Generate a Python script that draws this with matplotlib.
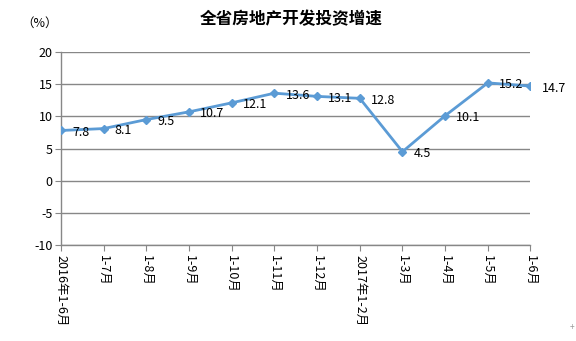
import matplotlib
matplotlib.use('Agg')
import matplotlib.pyplot as plt

plt.rcParams['font.family'] = ['Noto Sans CJK SC', 'DejaVu Sans']
plt.rcParams['axes.unicode_minus'] = False

# 全省房地产开发投资增速 (%)
months = ['2016年1-6月', '1-7月', '1-8月', '1-9月', '1-10月', '1-11月',
          '1-12月', '2017年1-2月', '1-3月', '1-4月', '1-5月', '1-6月']
growth = [7.8, 8.1, 9.5, 10.7, 12.1, 13.6, 13.1, 12.8, 4.5, 10.1, 15.2, 14.7]
yticks = [-10, -5, 0, 5, 10, 15, 20]

line_color = '#5B9BD5'
grid_color = '#878787'

fig = plt.figure(figsize=(5.76, 3.41), dpi=100)
ax = fig.add_axes([0.106, 0.2815, 0.815, 0.566])

x = list(range(len(months)))
ax.plot(x, growth, color=line_color, lw=2, marker='D', ms=4, mec=line_color, mfc=line_color, zorder=3)

for xi, v in zip(x, growth):
    ax.annotate(f'{v}', (xi, v), xytext=(8, -1.5), textcoords='offset points',
                ha='left', va='center', fontsize=9, color='black', zorder=4)

ax.set_xlim(0, len(months) - 1)
ax.set_ylim(-10, 20)
ax.set_yticks(yticks)
ax.set_xticks(x)
ax.set_xticklabels(months, rotation=-90, fontsize=9, va='top', ha='center')
ax.tick_params(axis='y', labelsize=9, length=4, color=grid_color, pad=2)
ax.tick_params(axis='x', length=4, color=grid_color, pad=3)

ax.grid(axis='y', color=grid_color, lw=1)
ax.set_axisbelow(True)
for s in ['top', 'right']:
    ax.spines[s].set_visible(False)
for s in ['left', 'bottom']:
    ax.spines[s].set_color(grid_color)
    ax.spines[s].set_linewidth(1)

fig.text(0.505, 0.945, '全省房地产开发投资增速', ha='center', va='center',
         fontsize=12, fontweight='bold')
fig.text(0.069, 0.933, '（%）', ha='center', va='center', fontsize=9)
fig.text(0.993, 0.04, '+', ha='center', va='center', fontsize=6, color='#999999')

fig.savefig('out.png', dpi=100)
